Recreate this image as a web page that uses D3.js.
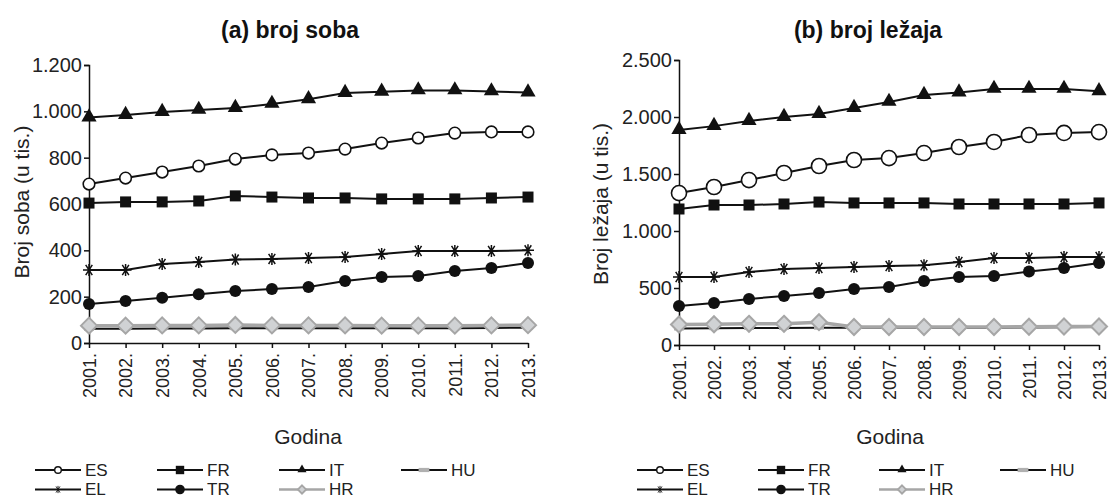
<!DOCTYPE html>
<html><head><meta charset="utf-8">
<script src="https://cdn.jsdelivr.net/npm/d3@7"></script>
<style>
body{margin:0;background:#fff;}
svg{display:block;font-family:"Liberation Sans",Arial,sans-serif;}
</style></head>
<body><svg id="c" width="1110" height="501"></svg>
<script>
const years = ["2001.","2002.","2003.","2004.","2005.","2006.","2007.","2008.","2009.","2010.","2011.","2012.","2013."];
const seriesNames = ["ES","FR","IT","HU","EL","TR","HR"];

// (a) broj soba (u tis.)
const roomsES = [686,712,738,764,794,812,820,837,863,885,906,911,911];
const roomsFR = [604,609,609,613,635,630,626,626,622,622,622,626,630];
const roomsIT = [973,984,997,1006,1014,1032,1052,1079,1084,1090,1090,1086,1081];
const roomsHU = [62,62,63,63,64,64,64,64,64,64,64,65,66];
const roomsEL = [315,315,341,350,360,363,367,371,384,397,397,397,400];
const roomsTR = [168,181,195,210,224,233,242,268,285,289,311,324,345];
const roomsHR = [75,75,76,76,78,76,76,76,75,75,75,76,77];

// (b) broj ležaja (u tis.)
const bedsES = [1333,1386,1447,1509,1570,1623,1640,1684,1737,1781,1842,1860,1868];
const bedsFR = [1193,1228,1228,1237,1254,1246,1246,1246,1237,1237,1237,1237,1246];
const bedsIT = [1885,1920,1965,2000,2026,2079,2132,2193,2215,2246,2246,2246,2225];
const bedsHU = [145,148,150,150,152,152,152,152,152,152,153,155,158];
const bedsEL = [596,596,640,667,675,684,693,700,728,763,763,772,772];
const bedsTR = [342,368,404,430,456,491,509,561,596,605,645,675,719];
const bedsHR = [180,182,186,186,200,158,158,158,158,158,160,162,162];

const ticksA = [0,200,400,600,800,1000,1200];
const ticksB = [0,500,1000,1500,2000,2500];

const loc = d3.formatLocale({decimal:",",thousands:".",grouping:[3],currency:["",""]});
const fmt = loc.format(",d");

const svg = d3.select("#c");

function marker(g, type, big){
  const s = big ? 1.3 : 1;
  if(type==="ES"){ g.append("circle").attr("r",5.8*s).attr("fill","#fff").attr("stroke","#111").attr("stroke-width",1.6); }
  else if(type==="FR"){ g.append("rect").attr("x",-5.5).attr("y",-5.5).attr("width",11).attr("height",11).attr("fill","#111"); }
  else if(type==="IT"){ g.append("path").attr("d",d3.symbol(d3.symbolTriangle,100)()).attr("fill","#111").attr("transform","translate(0,-0.5)"); }
  else if(type==="HU"){ g.append("rect").attr("x",-5).attr("y",-2).attr("width",10).attr("height",4).attr("fill","#b0b0b0"); }
  else if(type==="EL"){
    const r=6;
    g.append("path").attr("d",`M${-r},0H${r}M${-r*0.55},${-r*0.85}L${r*0.55},${r*0.85}M${r*0.55},${-r*0.85}L${-r*0.55},${r*0.85}M0,${-r}V${r}`)
      .attr("stroke","#111").attr("stroke-width",1.5).attr("fill","none");
  }
  else if(type==="TR"){ g.append("circle").attr("r",6).attr("fill","#111"); }
  else if(type==="HR"){ const r=8; g.append("path").attr("d",`M0,${-r}L${r},0L0,${r}L${-r},0Z`).attr("fill","#d0d2d4").attr("stroke","#a6a6a6").attr("stroke-width",2); }
}

const lineColor = {ES:"#111",FR:"#111",IT:"#111",HU:"#111",EL:"#111",TR:"#111",HR:"#a6a6a6"};
const lineWidth = {ES:2,FR:2,IT:2,HU:2,EL:2,TR:2,HR:3.5};

function panel(opt){
  const g = svg.append("g");
  const x = d3.scalePoint().domain(years).range([opt.x0, opt.x1]);
  const y = d3.scaleLinear().domain([0, opt.max]).range([opt.y0, opt.y1]);

  g.append("text").attr("x",opt.titleX).attr("y",38).attr("text-anchor","middle")
    .attr("font-weight","bold").attr("font-size",23).attr("fill","#111").text(opt.title);

  // y axis
  const ya = g.append("g").attr("transform",`translate(${opt.x0},0)`)
    .call(d3.axisLeft(y).tickValues(opt.ticks).tickFormat(fmt).tickSize(5).tickPadding(2));
  ya.select(".domain").attr("stroke","#111").attr("stroke-width",1.5);
  ya.selectAll(".tick line").attr("stroke","#111").attr("stroke-width",1.5);
  ya.selectAll("text").attr("font-size",20).attr("fill","#222").attr("font-family","Liberation Sans, Arial, sans-serif");

  // x axis
  const xa = g.append("g").attr("transform",`translate(0,${opt.y0})`)
    .call(d3.axisBottom(x).tickSize(5).tickSizeOuter(0));
  xa.select(".domain").attr("stroke","#111").attr("stroke-width",1.5);
  xa.selectAll(".tick line").attr("stroke","#111").attr("stroke-width",1.5);
  xa.selectAll("text").attr("font-size",18).attr("fill","#222").attr("font-family","Liberation Sans, Arial, sans-serif")
    .attr("text-anchor","end").attr("dy","0.35em").attr("x",-10).attr("y",0).attr("transform","rotate(-90)");

  g.append("text").attr("x",opt.godX).attr("y",444).attr("text-anchor","middle").attr("font-size",21).attr("fill","#222").text("Godina");
  g.append("text").attr("transform",`translate(${opt.ytX},${opt.ytY}) rotate(-90)`).attr("text-anchor","middle")
    .attr("font-size",21).attr("fill","#222").text(opt.ytitle);

  const order = ["HU","HR","TR","EL","FR","ES","IT"];
  const line = d3.line().x((d,i)=>x(years[i])).y(d=>y(d));
  order.forEach(k=>{
    g.append("path").datum(opt.data[k]).attr("d",line).attr("fill","none")
      .attr("stroke",lineColor[k]).attr("stroke-width",lineWidth[k]);
    opt.data[k].forEach((v,i)=>{
      const m = g.append("g").attr("transform",`translate(${x(years[i])},${y(v)})`);
      marker(m,k,opt.big);
    });
  });

  // legend
  const rows = [["ES","FR","IT","HU"],["EL","TR","HR"]];
  rows.forEach((row,ri)=>{
    row.forEach((k,ci)=>{
      const lx = opt.legX + ci*opt.legStep, ly = 470 + ri*19.5;
      const lg = g.append("g");
      lg.append("line").attr("x1",lx).attr("x2",lx+46).attr("y1",ly).attr("y2",ly)
        .attr("stroke",lineColor[k]).attr("stroke-width",k==="HR"?2.5:2);
      const m = lg.append("g").attr("transform",`translate(${lx+23},${ly}) scale(0.6)`);
      if(k==="ES"){ m.append("circle").attr("r",5.5).attr("fill","#fff").attr("stroke","#111").attr("stroke-width",2.4); }
      else if(k==="HR"){ const r=7; m.append("path").attr("d",`M0,${-r}L${r},0L0,${r}L${-r},0Z`).attr("fill","#d0d2d4").attr("stroke","#a6a6a6").attr("stroke-width",3); }
      else if(k==="HU"){ m.append("rect").attr("x",-9).attr("y",-3.5).attr("width",18).attr("height",7).attr("fill","#b0b0b0"); }
      else if(k==="FR"){ m.append("rect").attr("x",-7).attr("y",-7).attr("width",14).attr("height",14).attr("fill","#111"); }
      else if(k==="TR"){ m.append("circle").attr("r",8).attr("fill","#111"); }
      else marker(m,k,false);
      lg.append("text").attr("x",lx+50).attr("y",ly).attr("dy","0.35em").attr("font-size",17).attr("fill","#222").text(k);
    });
  });
}

panel({title:"(a) broj soba", titleX:290, x0:89, x1:528, y0:343, y1:65, max:1200, ticks:ticksA,
  ytitle:"Broj soba (u tis.)", ytX:29, ytY:202, godX:308, legX:35, legStep:122, big:false,
  data:{ES:roomsES,FR:roomsFR,IT:roomsIT,HU:roomsHU,EL:roomsEL,TR:roomsTR,HR:roomsHR}});
panel({title:"(b) broj ležaja", titleX:868, x0:679, x1:1099, y0:345, y1:60, max:2500, ticks:ticksB,
  ytitle:"Broj ležaja (u tis.)", ytX:608, ytY:204, godX:890, legX:637, legStep:121, big:true,
  data:{ES:bedsES,FR:bedsFR,IT:bedsIT,HU:bedsHU,EL:bedsEL,TR:bedsTR,HR:bedsHR}});
</script></body></html>
